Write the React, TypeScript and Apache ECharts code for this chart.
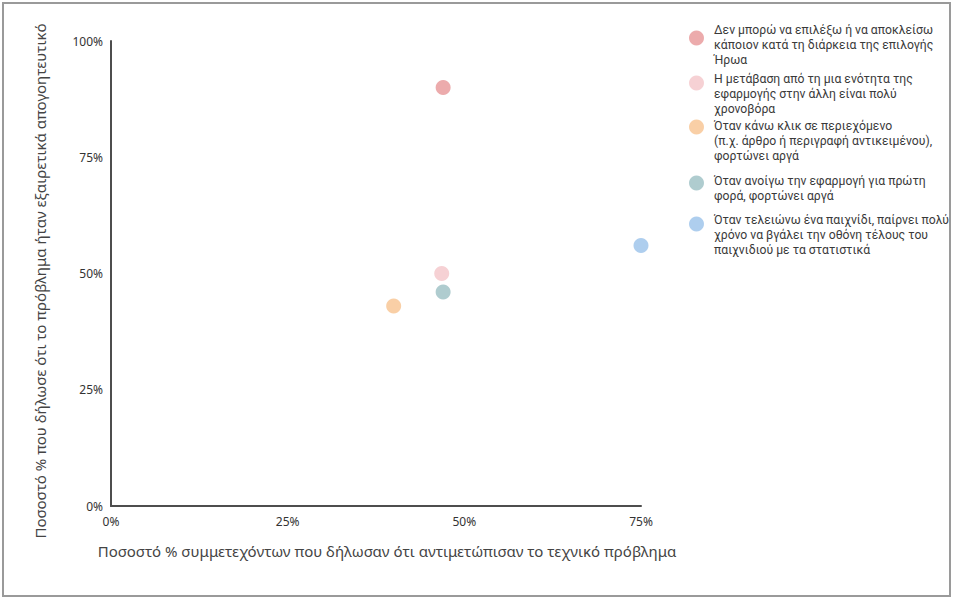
import React, { useEffect, useRef } from "react";
import * as echarts from "echarts";

const seriesNames = [
  "Δεν μπορώ να επιλέξω ή να αποκλείσω κάποιον κατά τη διάρκεια της επιλογής Ήρωα",
  "Η μετάβαση από τη μια ενότητα της εφαρμογής στην άλλη είναι πολύ χρονοβόρα",
  "Όταν κάνω κλικ σε περιεχόμενο (π.χ. άρθρο ή περιγραφή αντικειμένου), φορτώνει αργά",
  "Όταν ανοίγω την εφαρμογή για πρώτη φορά, φορτώνει αργά",
  "Όταν τελειώνω ένα παιχνίδι, παίρνει πολύ χρόνο να βγάλει την οθόνη τέλους του παιχνιδιού με τα στατιστικά",
];
const legendLabels = [
  "Δεν μπορώ να επιλέξω ή να αποκλείσω\nκάποιον κατά τη διάρκεια της επιλογής\nΉρωα",
  "Η μετάβαση από τη μια ενότητα της\nεφαρμογής στην άλλη είναι πολύ\nχρονοβόρα",
  "Όταν κάνω κλικ σε περιεχόμενο\n(π.χ. άρθρο ή περιγραφή αντικειμένου),\nφορτώνει αργά",
  "Όταν ανοίγω την εφαρμογή για πρώτη\nφορά, φορτώνει αργά",
  "Όταν τελειώνω ένα παιχνίδι, παίρνει πολύ\nχρόνο να βγάλει την οθόνη τέλους του\nπαιχνιδιού με τα στατιστικά",
];
const xValues = [47, 46.8, 40, 47, 75];
const yValues = [90, 50, 43, 46, 56];
const colors = ["#E8999A", "#F4C7CA", "#F8C593", "#9DC1C4", "#9CC3EA"];
const xTicks = [0, 25, 50, 75];
const yTicks = [0, 25, 50, 75, 100];
const xAxisTitle = "Ποσοστό % συμμετεχόντων που δήλωσαν ότι αντιμετώπισαν το τεχνικό πρόβλημα";
const yAxisTitle = "Ποσοστό % που δήλωσε ότι το πρόβλημα ήταν εξαιρετικά απογοητευτικό";

const FONT = "Noto Sans";
const LEGEND_FONT = "Roboto";
const LEGEND_SIZE = 12.2;
// legend layout helpers: marker center y, spacer above text
const legendMarkerY = [38, 83, 127, 183, 224];
const legendSpacer = [14, 22, 28, 10, 22];
const LINE_H = 15;

export default function App() {
  const ref = useRef<HTMLDivElement>(null);
  useEffect(() => {
    if (!ref.current) return;
    const chart = echarts.init(ref.current, null, { renderer: "svg" });
    const legends = legendLabels.map((lbl, i) => {
      const lines = lbl.split("\n");
      const h = lines.length * LINE_H + legendSpacer[i];
      const top = legendMarkerY[i] - h / 2;
      const text = "{s| }\n" + lines.map((l) => "{t|" + l + "}").join("\n");
      return {
        orient: "vertical",
        left: 689,
        top,
        padding: 0,
        itemWidth: 15,
        itemHeight: 15,
        itemGap: 0,
        icon: "circle",
        data: [seriesNames[i]],
        formatter: () => text,
        textStyle: {
          fontFamily: LEGEND_FONT,
          fontSize: LEGEND_SIZE,
          color: "#3a3a3a",
          lineHeight: LINE_H,
          rich: {
            s: { fontSize: 1, lineHeight: legendSpacer[i], height: legendSpacer[i] },
            t: { fontFamily: LEGEND_FONT, fontSize: LEGEND_SIZE, color: "#3a3a3a", lineHeight: LINE_H, padding: [0, 0, 0, 5] },
          },
        },
      };
    });
    chart.setOption({
      animation: false,
      backgroundColor: "#ffffff",
      grid: { left: 111, right: 312, top: 41, bottom: 93, containLabel: false },
      xAxis: {
        type: "value",
        min: xTicks[0],
        max: xTicks[xTicks.length - 1],
        interval: 25,
        name: xAxisTitle,
        nameLocation: "middle",
        nameGap: 37,
        nameTextStyle: { fontFamily: FONT, fontSize: 15, color: "#444444", padding: [0, 0, 0, 22] },
        axisLine: { show: true, lineStyle: { color: "#4d4d4d", width: 2 } },
        axisTick: { show: false },
        splitLine: { show: false },
        axisLabel: { formatter: "{value}%", fontFamily: FONT, fontSize: 12, color: "#333333", margin: 9 },
      },
      yAxis: {
        type: "value",
        min: yTicks[0],
        max: yTicks[yTicks.length - 1],
        interval: 25,
        name: yAxisTitle,
        nameLocation: "middle",
        nameGap: 64,
        nameTextStyle: { fontFamily: FONT, fontSize: 15, color: "#444444", padding: [0, 15, 0, 0] },
        axisLine: { show: true, lineStyle: { color: "#4d4d4d", width: 2 } },
        axisTick: { show: false },
        splitLine: { show: false },
        axisLabel: { formatter: "{value}%", fontFamily: FONT, fontSize: 12, color: "#333333", margin: 8 },
      },
      legend: legends,
      graphic: [
        {
          type: "rect",
          shape: { x: 3, y: 3, width: 947, height: 593 },
          style: { fill: "none", stroke: "#9a9a9a", lineWidth: 2 },
          silent: true,
          z: 100,
        },
      ],
      series: seriesNames.map((name, i) => ({
        type: "scatter",
        name,
        symbol: "circle",
        symbolSize: 15,
        itemStyle: { color: colors[i], opacity: 0.82 },
        data: [[xValues[i], yValues[i]]],
      })),
    });
    return () => chart.dispose();
  }, []);
  return (
    <div
      ref={ref}
      style={{ position: "fixed", left: 0, top: 0, width: 953, height: 599 }}
    />
  );
}
